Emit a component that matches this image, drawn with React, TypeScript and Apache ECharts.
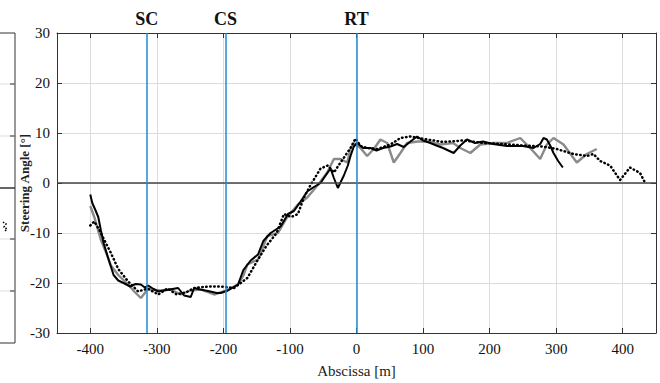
import React, { useEffect, useRef } from "react";
import * as echarts from "echarts";

const xTicks = [-400, -300, -200, -100, 0, 100, 200, 300, 400];
const yTicks = [-30, -20, -10, 0, 10, 20, 30];

const markers = [
  { name: "SC", x: -315 },
  { name: "CS", x: -197 },
  { name: "RT", x: 0 },
];

const blackSolid: [number, number][] = [
  [-400, -2.3], [-397, -4.0], [-393, -5.2], [-388, -6.8], [-384, -9.5], [-380, -12], [-372, -15.5],
  [-365, -18.4], [-358, -19.5], [-350, -20], [-340, -20.7], [-332, -20.2], [-324, -20.3], [-318, -20.9],
  [-313, -20.5], [-305, -21.2], [-298, -21.7], [-285, -21.4], [-268, -21], [-259, -22.5], [-249, -22.8],
  [-244, -21], [-235, -21.3], [-223, -21.6], [-210, -22], [-204, -22], [-193, -21.5], [-178, -20.3],
  [-170, -17.4], [-159, -15.5], [-148, -14.3], [-140, -11.6], [-129, -10], [-114, -8.7], [-103, -6.2],
  [-94, -5.6], [-84, -3.7], [-74, -1.7], [-64, -0.8], [-54, 0], [-49, 1], [-39, 2.9], [-34, 1],
  [-28, -1], [-19, 1.5], [-13, 3.5], [-9, 5.4], [-4, 7.3], [1, 8.0], [10, 7], [21, 7], [30, 6.5],
  [40, 7], [51, 7.3], [61, 7.8], [71, 7.2], [81, 8.3], [91, 9.3], [100, 8.5], [111, 8], [120, 7.5],
  [130, 7], [146, 6], [156, 7.5], [166, 8.7], [178, 8], [190, 8.3], [205, 7.8], [226, 7.4], [250, 7.4],
  [266, 7], [276, 7.8], [281, 9], [286, 8.7], [291, 7.5], [296, 6], [303, 4.4], [310, 3.1],
];

const graySolid: [number, number][] = [
  [-400, -4.6], [-394, -6.8], [-384, -11.4], [-376, -14], [-369, -16.5], [-358, -18.4], [-343, -20.3],
  [-334, -21.7], [-324, -23], [-318, -22], [-314, -21.1], [-309, -21.3], [-295, -21.5], [-279, -21.3],
  [-264, -22.3], [-250, -21.5], [-234, -21.3], [-214, -22.3], [-200, -21.7], [-178, -20.3], [-170, -18.5],
  [-164, -16.3], [-148, -15.3], [-134, -10.6], [-118, -10], [-104, -6.8], [-88, -4.3], [-74, -2.9],
  [-58, -0.4], [-44, 2.1], [-34, 4.8], [-24, 4.8], [-14, 4.1], [-9, 6.8], [-4, 8], [6, 7], [16, 5.4],
  [26, 6.8], [36, 8.7], [46, 8], [56, 4.1], [66, 6], [76, 8], [92, 8.3], [106, 8.3], [126, 7.7],
  [145, 8], [156, 7], [171, 6], [186, 7.7], [206, 8], [226, 8], [246, 9], [261, 7], [276, 4.8],
  [286, 7.7], [296, 9], [311, 7.7], [331, 4.1], [346, 5.8], [361, 6.8],
];

const blackDotted: [number, number][] = [
  [-400, -8.5], [-394, -7.7], [-386, -9.5], [-379, -11.4], [-369, -14], [-358, -17.2], [-343, -19.7],
  [-328, -21.7], [-314, -21.1], [-298, -22.3], [-284, -21.1], [-270, -22.3], [-255, -21.8], [-244, -21],
  [-230, -20.8], [-219, -20.7], [-204, -20.7], [-184, -21], [-164, -19], [-148, -15.3], [-135, -12.5],
  [-120, -10], [-109, -6.2], [-98, -6.8], [-88, -6.2], [-79, -2.9], [-69, -0.4], [-54, 2.9], [-43, 3.5],
  [-34, 2.1], [-24, 4.1], [-9, 7], [-1.5, 8.9], [6, 7.4], [16, 7], [31, 6.8], [51, 7.7], [66, 9],
  [81, 9.3], [106, 8.7], [130, 8.2], [160, 8.5], [190, 8], [220, 7.8], [250, 7.5], [280, 7.3],
  [301, 6.8], [326, 5.8], [346, 5.4], [356, 5.8], [366, 4.4], [381, 3.5], [396, 0.6], [411, 3.1],
  [426, 2], [433, 0.2],
];

const FONT = "Liberation Serif";
const AXIS_COLOR = "#333";

export default function App() {
  const ref = useRef<HTMLDivElement>(null);
  useEffect(() => {
    if (!ref.current) return;
    const chart = echarts.init(ref.current, null, { renderer: "svg" });
    const partialGrid = [84, 136, 239, 291];
    const graphic: any[] = [
      { type: "line", shape: { x1: 15, y1: 33, x2: 15, y2: 343 }, style: { stroke: AXIS_COLOR, lineWidth: 1 } },
      { type: "line", shape: { x1: 0, y1: 33, x2: 15, y2: 33 }, style: { stroke: AXIS_COLOR, lineWidth: 1 } },
      { type: "line", shape: { x1: 0, y1: 343, x2: 15, y2: 343 }, style: { stroke: AXIS_COLOR, lineWidth: 1 } },
      { type: "line", shape: { x1: 0, y1: 188, x2: 15, y2: 188 }, style: { stroke: AXIS_COLOR, lineWidth: 1.5 } },
      ...partialGrid.map((y) => ({ type: "line", shape: { x1: 0, y1: y, x2: 15, y2: y }, style: { stroke: "#ddd", lineWidth: 1 } })),
      ...partialGrid.map((y) => ({ type: "line", shape: { x1: 10, y1: y, x2: 15, y2: y }, style: { stroke: AXIS_COLOR, lineWidth: 1 } })),
      { type: "polyline", shape: { points: [[3, 222], [6, 224], [4, 227], [7, 229], [4, 232]] }, style: { stroke: "#000", lineWidth: 1.5, lineDash: [1.5, 1.5], fill: null } },
    ];
    chart.setOption({
      animation: false,
      backgroundColor: "#fff",
      textStyle: { fontFamily: FONT },
      graphic,
      grid: { left: 57, right: 4, top: 33, bottom: 40, containLabel: false },
      xAxis: [
        {
          type: "value", min: -450, max: 450, position: "bottom",
          name: "Abscissa [m]", nameLocation: "middle", nameGap: 30, nameMoveOverlap: false,
          nameTextStyle: { fontFamily: FONT, fontSize: 15, color: "#222" },
          axisLine: { show: true, onZero: false, lineStyle: { color: AXIS_COLOR } },
          axisTick: { show: true, inside: true, length: 5, customValues: xTicks, lineStyle: { color: AXIS_COLOR } },
          axisLabel: { customValues: xTicks, fontFamily: FONT, fontSize: 15, color: "#111", margin: 8 },
          splitLine: { show: true, lineStyle: { color: "#dcdcdc" } },
        },
        {
          type: "value", min: -450, max: 450, position: "top",
          axisLine: { show: true, onZero: false, lineStyle: { color: AXIS_COLOR } },
          axisTick: { show: true, inside: true, length: 5, customValues: xTicks, lineStyle: { color: AXIS_COLOR } },
          axisLabel: { show: false },
          splitLine: { show: false },
        },
      ],
      yAxis: [
        {
          type: "value", min: -30, max: 30, interval: 10, position: "left",
          name: "Steering Angle [°]", nameLocation: "middle", nameGap: 26, nameMoveOverlap: false,
          nameTextStyle: { fontFamily: FONT, fontSize: 13, fontWeight: "bold", color: "#222" },
          axisLine: { show: true, onZero: false, lineStyle: { color: AXIS_COLOR } },
          axisTick: { show: true, inside: true, length: 5, lineStyle: { color: AXIS_COLOR } },
          axisLabel: { fontFamily: FONT, fontSize: 15, color: "#111", margin: 7, formatter: (v: number) => (yTicks.includes(v) ? String(v) : "") },
          splitLine: { show: true, lineStyle: { color: "#dcdcdc" } },
        },
        {
          type: "value", min: -30, max: 30, interval: 10, position: "right",
          axisLine: { show: true, onZero: false, lineStyle: { color: AXIS_COLOR } },
          axisTick: { show: true, inside: true, length: 5, lineStyle: { color: AXIS_COLOR } },
          axisLabel: { show: false },
          splitLine: { show: false },
        },
      ],
      series: [
        {
          type: "line", name: "gray", data: graySolid, showSymbol: false, symbol: "none",
          lineStyle: { color: "#8a8a8a", width: 2.4 }, z: 2,
          markLine: {
            silent: true, symbol: "none", animation: false,
            data: [
              {
                yAxis: 0,
                lineStyle: { color: "#444", width: 1.5, type: "solid" },
                label: { show: false },
              },
              ...markers.map((m) => ({
                xAxis: m.x, name: m.name,
                lineStyle: { color: "#1f8ad6", width: 1.5, type: "solid" },
                label: {
                  show: true, position: "end", formatter: "{b}", distance: 5,
                  fontFamily: FONT, fontSize: 18, fontWeight: "bold", color: "#111",
                },
              })),
            ],
          },
        },
        {
          type: "line", name: "dotted", data: blackDotted, showSymbol: false, symbol: "none",
          lineStyle: { color: "#000", width: 2.5, type: [0.5, 3.5], cap: "round" }, z: 3,
        },
        {
          type: "line", name: "black", data: blackSolid, showSymbol: false, symbol: "none",
          lineStyle: { color: "#000", width: 2 }, z: 4,
        },
      ],
    });
    return () => chart.dispose();
  }, []);
  return <div ref={ref} style={{ width: 660, height: 383, position: "absolute", left: 0, top: 0 }} />;
}
